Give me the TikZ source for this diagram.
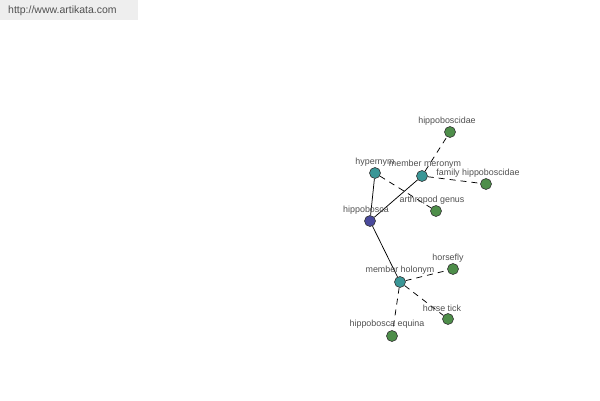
\documentclass[tikz,border=0pt]{standalone}
\usepackage{fontspec}
\setmainfont{Liberation Sans}
\usetikzlibrary{backgrounds}
\definecolor{hubc}{HTML}{4A4A9C}
\definecolor{relc}{HTML}{3A9696}
\definecolor{leafc}{HTML}{4E8E4A}
\definecolor{txtc}{HTML}{505050}
\definecolor{hdrc}{HTML}{EEEEEE}
\tikzset{
  dot/.style={circle, draw=black!80, line width=0.6pt, minimum size=11pt, inner sep=0pt},
  hub/.style={dot, fill=hubc},
  rel/.style={dot, fill=relc},
  leaf/.style={dot, fill=leafc},
  lbl/.style={font=\fontsize{8.9}{9}\selectfont, text=txtc, inner sep=0pt},
  solidedge/.style={draw=black, line width=0.75pt},
  dashedge/.style={draw=black, line width=0.75pt, dash pattern=on 6pt off 5pt},
}
\begin{document}
\begin{tikzpicture}[x=1pt, y=-1pt]
\useasboundingbox (0,0) rectangle (600,400);
\fill[hdrc] (0,0) rectangle (138,20);
\node[font=\fontsize{10.5}{12}\selectfont, text=txtc, anchor=west, inner sep=0pt] (url) at (8,11) {http://www.artikata.com};

\node[hub]  (hippobosca) at (370,221) {};
\node[rel]  (hypernym)   at (375,173) {};
\node[rel]  (meronym)    at (422,176) {};
\node[rel]  (holonym)    at (400,282) {};
\node[leaf] (hippoboscidae) at (450,132) {};
\node[leaf] (family)     at (486,184) {};
\node[leaf] (arthropod)  at (436,211) {};
\node[leaf] (horsefly)   at (453,269) {};
\node[leaf] (horsetick)  at (448,319) {};
\node[leaf] (equina)     at (392,336) {};

\node[lbl] (l1) at (366,210) {hippobosca};
\node[lbl] (l2) at (375,162) {hypernym};
\node[lbl] (l3) at (425,164) {member meronym};
\node[lbl] (l4) at (447,121) {hippoboscidae};
\node[lbl] (l5) at (478,173) {family hippoboscidae};
\node[lbl] (l6) at (432,200) {arthropod genus};
\node[lbl] (l7) at (448,258) {horsefly};
\node[lbl] (l8) at (400,270) {member holonym};
\node[lbl] (l9) at (442,308) {horse tick};
\node[lbl] (l10) at (387,324) {hippobosca equina};

\begin{pgfonlayer}{background}
\draw[solidedge] (hippobosca) -- (hypernym);
\draw[solidedge] (hippobosca) -- (meronym);
\draw[solidedge] (hippobosca) -- (holonym);
\draw[dashedge] (hypernym) -- (arthropod);
\draw[dashedge] (meronym) -- (hippoboscidae);
\draw[dashedge] (meronym) -- (family);
\draw[dashedge] (holonym) -- (horsefly);
\draw[dashedge] (holonym) -- (horsetick);
\draw[dashedge] (holonym) -- (equina);
\end{pgfonlayer}
\end{tikzpicture}
\end{document}
